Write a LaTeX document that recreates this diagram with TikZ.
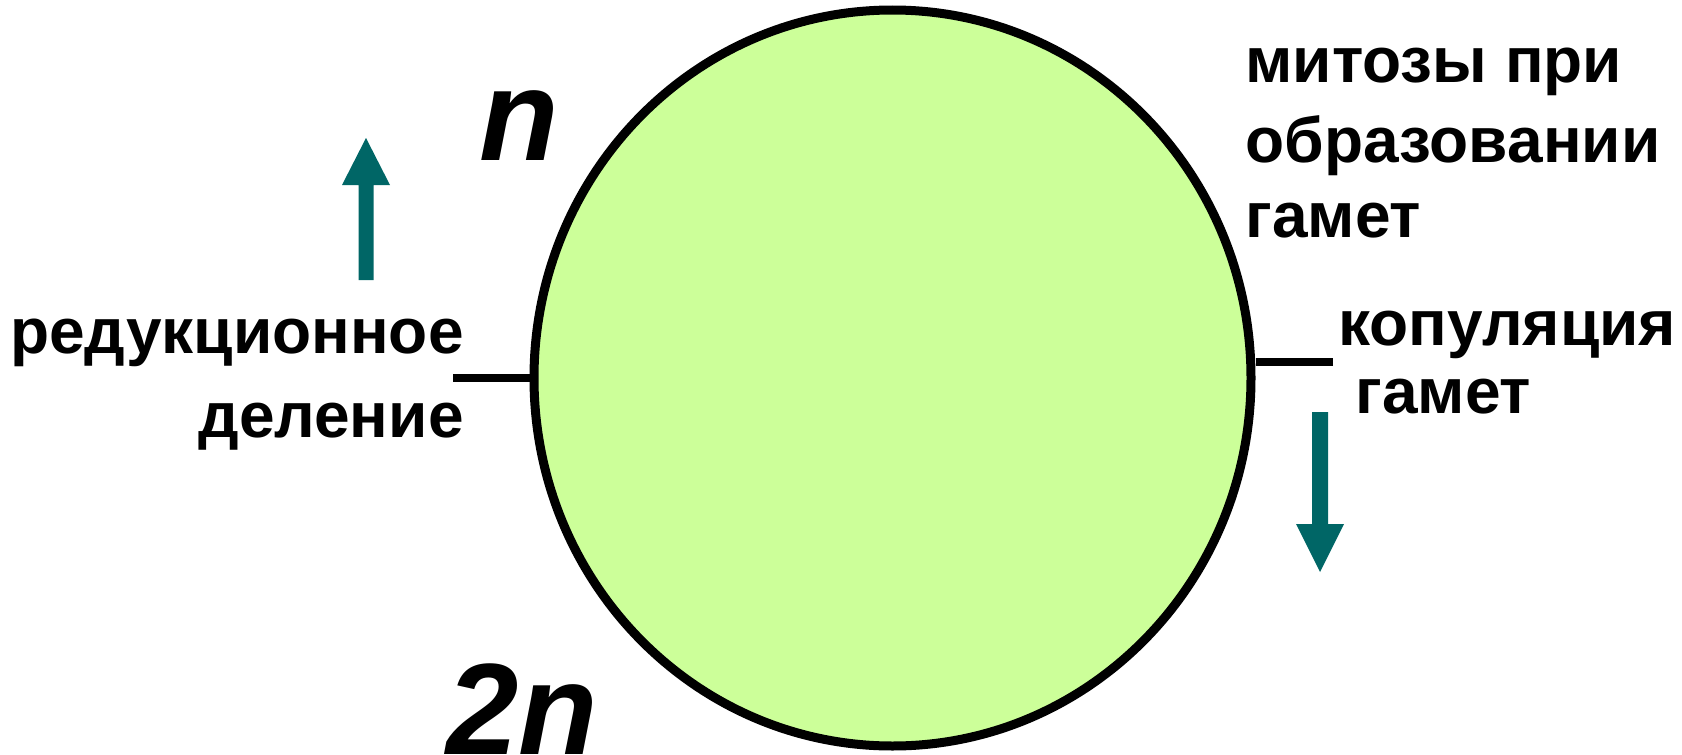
\documentclass[tikz,border=0pt]{standalone}
\usepackage{fontspec}
\setmainfont{Liberation Sans}
\usetikzlibrary{shapes.geometric}
\definecolor{cellfill}{HTML}{CCFF99}
\definecolor{arrowteal}{HTML}{006666}
\begin{document}
\begin{tikzpicture}[x=0.5pt,y=-0.5pt,
  lbl/.style={inner sep=0pt, font=\fontsize{32}{38}\selectfont\bfseries},
  ploidy/.style={inner sep=0pt, font=\fontsize{65}{76}\selectfont\bfseries\itshape},
  rule/.style={line width=4pt},
  blockarrow/.style={fill=arrowteal}]
\useasboundingbox (0,0) rectangle (1682,755);
\node[ellipse, draw, line width=4.5pt, fill=cellfill, minimum width=358.5pt, minimum height=368pt, inner sep=0pt] (cell) at (892.5,378) {};
% left labels
\node[lbl, anchor=base east] (red1) at (464,353) {редукционное};
\node[lbl, anchor=base east] (red2) at (464,437) {деление};
% right top labels
\node[lbl, anchor=base west] (mit1) at (1245,83) {митозы при};
\node[lbl, anchor=base west] (mit2) at (1245,162) {образовании};
\node[lbl, anchor=base west] (mit3) at (1245,237) {гамет};
% right middle labels
\node[lbl, anchor=base west] (cop1) at (1338,345) {копуляция};
\node[lbl, anchor=base west] (cop2) at (1355,413) {гамет};
% ploidy labels
\node[ploidy, anchor=base west] (hapl) at (479,160) {n};
\node[ploidy, anchor=base west] (dipl) at (446,754) {2n};
% tick lines
\coordinate (lend) at (453,378);
\draw[rule] (cell.west) -- (lend);
\coordinate (rend) at (1333,362);
\draw[rule] (rend) -- (rend -| cell.east);
% block arrows
\fill[blockarrow] (358.5,280) -- (358.5,185) -- (342,185) -- (366,138) -- (390,185) -- (373.5,185) -- (373.5,280) -- cycle;
\fill[blockarrow] (1312,412) -- (1312,524) -- (1296,524) -- (1320,572) -- (1344,524) -- (1328,524) -- (1328,412) -- cycle;
\end{tikzpicture}
\end{document}
